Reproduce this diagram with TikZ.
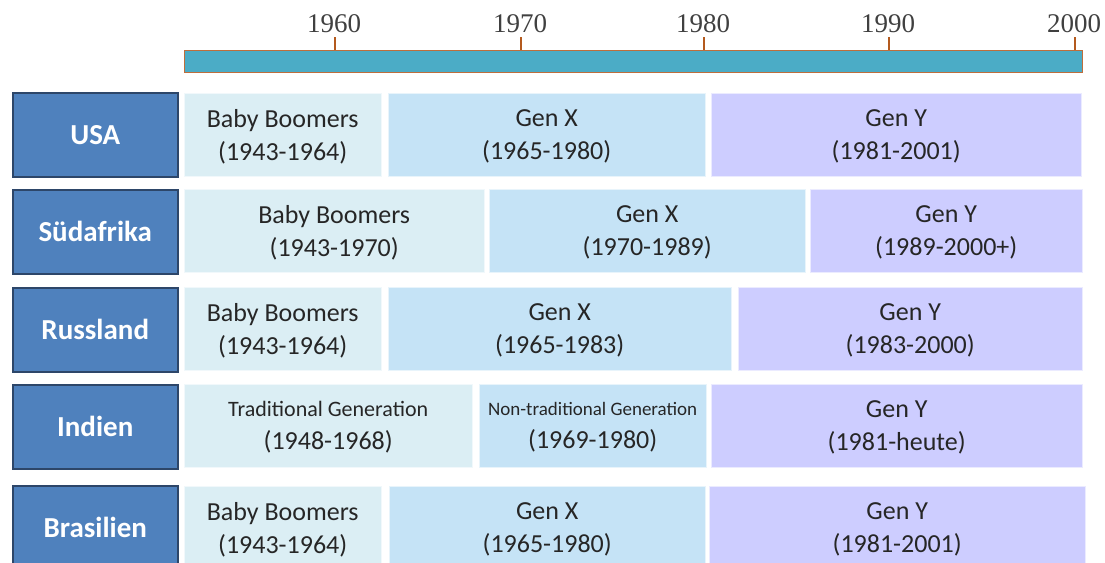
\documentclass[tikz,border=0pt]{standalone}
\usepackage{fontspec}
\setmainfont{Carlito}
\newfontfamily\axisfont{Liberation Serif}
\definecolor{landblue}{RGB}{79,129,189}
\definecolor{landedge}{RGB}{45,70,105}
\definecolor{bbcol}{RGB}{219,238,244}
\definecolor{gxcol}{RGB}{197,227,246}
\definecolor{gycol}{RGB}{205,205,255}
\definecolor{barcol}{RGB}{75,172,198}
\definecolor{baredge}{RGB}{190,110,60}
\definecolor{tickcol}{RGB}{180,90,30}
\tikzset{
  land/.style={draw=landedge, line width=1.5pt, fill=landblue, text=white,
    font=\bfseries\fontsize{29}{30}\selectfont, minimum width=165pt,
    minimum height=84pt, anchor=north west, inner sep=0pt},
  cell/.style={anchor=north west, minimum height=83pt, inner sep=0pt,
    align=center, text depth=0pt, font=\fontsize{26}{33}\selectfont, text=black!85},
  bb/.style={cell, fill=bbcol, draw=bbcol!40!white},
  gx/.style={cell, fill=gxcol, draw=gxcol!40!white},
  gy/.style={cell, fill=gycol, draw=gycol!40!white},
  year/.style={anchor=base, text=black!75, font=\axisfont\fontsize{27}{30}\selectfont}
}
\begin{document}
\begin{tikzpicture}[x=1pt,y=-1pt]
  \useasboundingbox (0,0) rectangle (1105,562);
  % time axis
  \node[draw=baredge, line width=1pt, fill=barcol, minimum width=898pt,
    minimum height=22pt, anchor=north west, inner sep=0pt] (bar) at (184,50) {};
  \node[year] (y60) at (334,32) {1960};
  \node[year] (y70) at (520,32) {1970};
  \node[year] (y80) at (703,32) {1980};
  \node[year] (y90) at (888,32) {1990};
  \node[year] (y00) at (1074,32) {2000};
  \draw[tickcol, line width=1.5pt] (335,37) -- (335,50)
    (521,37) -- (521,50) (704,37) -- (704,50)
    (889,37) -- (889,50) (1075,37) -- (1075,50);
  % USA
  \node[land] (usa) at (12,92) {USA};
  \node[bb, minimum width=197pt] (usabb) at (184,93) {Baby Boomers\\(1943-1964)};
  \node[gx, minimum width=317pt] (usagx) at (388,93) {Gen X\\(1965-1980)};
  \node[gy, minimum width=370pt] (usagy) at (711,93) {Gen Y\\(1981-2001)};
  % Suedafrika
  \node[land] (saf) at (12,189) {Südafrika};
  \node[bb, minimum width=300pt] (safbb) at (184,189) {Baby Boomers\\(1943-1970)};
  \node[gx, minimum width=316pt] (safgx) at (489,189) {Gen X\\(1970-1989)};
  \node[gy, minimum width=272pt] (safgy) at (810,189) {Gen Y\\(1989-2000+)};
  % Russland
  \node[land] (rus) at (12,287) {Russland};
  \node[bb, minimum width=197pt] (rusbb) at (184,287) {Baby Boomers\\(1943-1964)};
  \node[gx, minimum width=343pt] (rusgx) at (388,287) {Gen X\\(1965-1983)};
  \node[gy, minimum width=344pt] (rusgy) at (738,287) {Gen Y\\(1983-2000)};
  % Indien
  \node[land] (ind) at (12,384) {Indien};
  \node[bb, minimum width=288pt] (indtr) at (184,384)
    {{\fontsize{22}{33}\selectfont Traditional Generation}\\(1948-1968)};
  \node[gx, minimum width=227pt] (indnt) at (479,384)
    {{\fontsize{19}{33}\selectfont Non-traditional Generation}\\(1969-1980)};
  \node[gy, minimum width=371pt] (indgy) at (711,384) {Gen Y\\(1981-heute)};
  % Brasilien
  \node[land] (bra) at (12,485) {Brasilien};
  \node[bb, minimum width=197pt] (brabb) at (184,486) {Baby Boomers\\(1943-1964)};
  \node[gx, minimum width=316pt] (bragx) at (389,486) {Gen X\\(1965-1980)};
  \node[gy, minimum width=376pt] (bragy) at (709,486) {Gen Y\\(1981-2001)};
\end{tikzpicture}
\end{document}
